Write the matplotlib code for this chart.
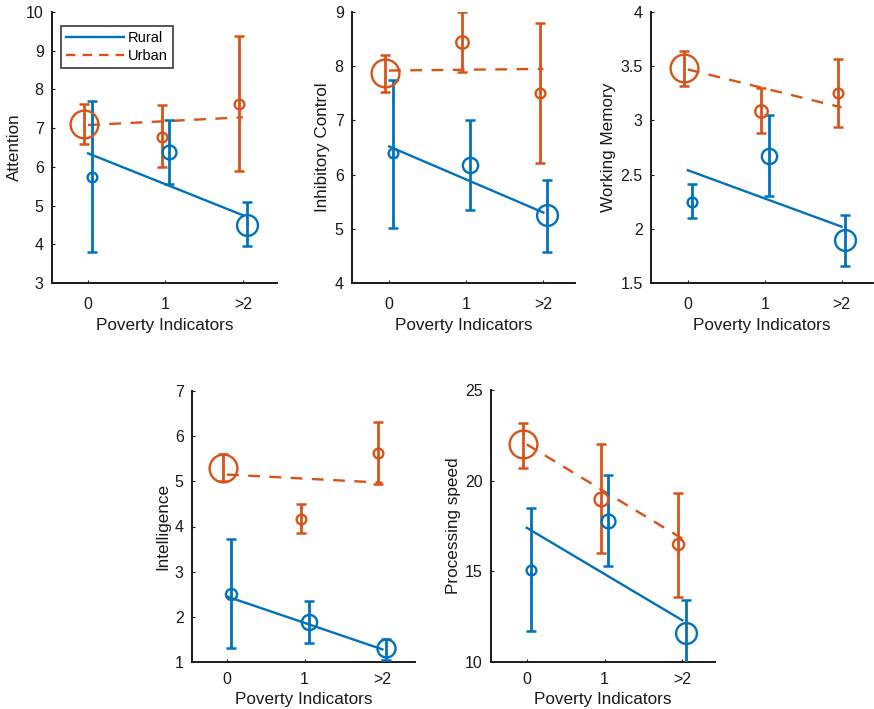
import matplotlib
matplotlib.use("Agg")
import matplotlib.pyplot as plt
from matplotlib.lines import Line2D

plt.rcParams['font.family'] = ['Liberation Sans', 'DejaVu Sans']

# ---- data ----
x_pos = [0, 1, 2]
x_labels = ['0', '1', '>2']

panels = ['Attention', 'Inhibitory Control', 'Working Memory', 'Intelligence', 'Processing speed']

# Urban means / error-bar low / error-bar high
urban_mean = {
    'Attention': [7.1, 6.78, 7.62],
    'Inhibitory Control': [7.87, 8.45, 7.5],
    'Working Memory': [3.48, 3.09, 3.25],
    'Intelligence': [5.3, 4.17, 5.63],
    'Processing speed': [22.0, 19.0, 16.5],
}
urban_low = {
    'Attention': [6.6, 6.0, 5.9],
    'Inhibitory Control': [7.52, 7.9, 6.22],
    'Working Memory': [3.32, 2.88, 2.94],
    'Intelligence': [5.0, 3.85, 4.95],
    'Processing speed': [20.7, 16.0, 13.6],
}
urban_high = {
    'Attention': [7.62, 7.6, 9.38],
    'Inhibitory Control': [8.2, 9.0, 8.8],
    'Working Memory': [3.64, 3.3, 3.57],
    'Intelligence': [5.6, 4.5, 6.32],
    'Processing speed': [23.2, 22.0, 19.3],
}
rural_mean = {
    'Attention': [5.75, 6.38, 4.5],
    'Inhibitory Control': [6.4, 6.17, 5.25],
    'Working Memory': [2.25, 2.67, 1.9],
    'Intelligence': [2.5, 1.88, 1.3],
    'Processing speed': [15.1, 17.8, 11.6],
}
rural_low = {
    'Attention': [3.8, 5.55, 3.95],
    'Inhibitory Control': [5.02, 5.35, 4.58],
    'Working Memory': [2.1, 2.3, 1.66],
    'Intelligence': [1.3, 1.42, 1.05],
    'Processing speed': [11.7, 15.3, 9.8],
}
rural_high = {
    'Attention': [7.7, 7.2, 5.08],
    'Inhibitory Control': [7.75, 7.0, 5.9],
    'Working Memory': [2.41, 3.05, 2.13],
    'Intelligence': [3.72, 2.35, 1.52],
    'Processing speed': [18.5, 20.3, 13.4],
}
# fitted trend line values at x=0 and x=2
urban_fit = {
    'Attention': [7.08, 7.28],
    'Inhibitory Control': [7.92, 7.95],
    'Working Memory': [3.47, 3.12],
    'Intelligence': [5.15, 4.97],
    'Processing speed': [22.0, 16.8],
}
rural_fit = {
    'Attention': [6.35, 4.75],
    'Inhibitory Control': [6.52, 5.3],
    'Working Memory': [2.54, 2.02],
    'Intelligence': [2.45, 1.28],
    'Processing speed': [17.4, 12.3],
}
# relative group size (marker size)
urban_size = {
    'Attention': [20, 7, 7],
    'Inhibitory Control': [20, 9, 7],
    'Working Memory': [20, 9, 7],
    'Intelligence': [20, 7, 7],
    'Processing speed': [20, 10, 8],
}
rural_size = {
    'Attention': [7, 10, 15],
    'Inhibitory Control': [7, 11, 15],
    'Working Memory': [7, 11, 15],
    'Intelligence': [8, 11, 13],
    'Processing speed': [7, 10, 15],
}
ylims = {
    'Attention': (3, 10),
    'Inhibitory Control': (4, 9),
    'Working Memory': (1.5, 4),
    'Intelligence': (1, 7),
    'Processing speed': (10, 25),
}
yticks = {
    'Attention': [3, 4, 5, 6, 7, 8, 9, 10],
    'Inhibitory Control': [4, 5, 6, 7, 8, 9],
    'Working Memory': [1.5, 2, 2.5, 3, 3.5, 4],
    'Intelligence': [1, 2, 3, 4, 5, 6, 7],
    'Processing speed': [10, 15, 20, 25],
}

BLUE = '#0072BD'
ORANGE = '#D95319'
INK = '#1a1a1a'

W, H = 874, 709
fig = plt.figure(figsize=(W / 100, H / 100), dpi=100)

# axes boxes in pixels: left, top, right, bottom
boxes = {
    'Attention': (52, 12, 277, 283),
    'Inhibitory Control': (352, 12, 575, 283),
    'Working Memory': (651, 12, 873, 283),
    'Intelligence': (192, 391, 415, 662),
    'Processing speed': (491, 390, 715, 662),
}
xlims = {
    'Attention': (-0.465, 2.44),
    'Inhibitory Control': (-0.48, 2.41),
    'Working Memory': (-0.48, 2.41),
    'Intelligence': (-0.45, 2.42),
    'Processing speed': (-0.46, 2.42),
}
top_row = ('Attention', 'Inhibitory Control', 'Working Memory')

off = 0.05
for name in panels:
    l, t, r, b = boxes[name]
    ax = fig.add_axes([l / W, 1 - b / H, (r - l) / W, (b - t) / H])
    # fit lines
    ax.plot([0, 2], rural_fit[name], color=BLUE, lw=1.7, zorder=3)
    ax.plot([0, 2], urban_fit[name], color=ORANGE, lw=1.7, ls=(0, (5, 4)), zorder=3)
    for xs, m, lo, hi, sz, c in [
        ([x - off for x in x_pos], urban_mean[name], urban_low[name], urban_high[name], urban_size[name], ORANGE),
        ([x + off for x in x_pos], rural_mean[name], rural_low[name], rural_high[name], rural_size[name], BLUE),
    ]:
        yerr = [[mm - ll for mm, ll in zip(m, lo)], [hh - mm for mm, hh in zip(m, hi)]]
        ax.errorbar(xs, m, yerr=yerr, fmt='none', ecolor=c, elinewidth=2.0,
                    capsize=3.6, capthick=1.8, zorder=4)
        for xi, mi, si in zip(xs, m, sz):
            ax.plot([xi], [mi], marker='o', ms=si, mfc='none', mec=c, mew=1.7, zorder=5)
    ax.set_xlim(*xlims[name])
    ax.set_ylim(*ylims[name])
    ax.set_xticks(x_pos)
    ax.set_xticklabels(x_labels)
    ax.set_yticks(yticks[name])
    ax.set_yticklabels([('%g' % v) for v in yticks[name]])
    ax.spines['top'].set_visible(False)
    ax.spines['right'].set_visible(False)
    for s in ('left', 'bottom'):
        ax.spines[s].set_linewidth(1.4)
        ax.spines[s].set_color(INK)
    ax.tick_params(direction='in', length=2.5, width=0.8, labelsize=11.5, colors=INK, pad=6)
    if name in top_row:
        ax.tick_params(axis='x', pad=10)
        ax.set_xlabel('Poverty Indicators', fontsize=12.3, color=INK, labelpad=4.5)
    else:
        ax.tick_params(axis='x', pad=7.5)
        ax.set_xlabel('Poverty Indicators', fontsize=12.3, color=INK, labelpad=3)
    ax.set_ylabel(name, fontsize=12.3, color=INK, labelpad=3)
    ax.patch.set_alpha(0)
    if name == 'Attention':
        handles = [Line2D([], [], color=BLUE, lw=1.7),
                   Line2D([], [], color=ORANGE, lw=1.7, ls=(0, (4, 3)))]
        leg = ax.legend(handles, ['Rural', 'Urban'], loc='upper left',
                        bbox_to_anchor=(0.04, 0.95), fontsize=10.5, handlelength=4.0,
                        frameon=True, fancybox=False, borderpad=0.35, labelspacing=0.3,
                        handletextpad=0.25, borderaxespad=0)
        leg.get_frame().set_edgecolor(INK)
        leg.get_frame().set_linewidth(1.3)

fig.savefig('out.png', dpi=100)
